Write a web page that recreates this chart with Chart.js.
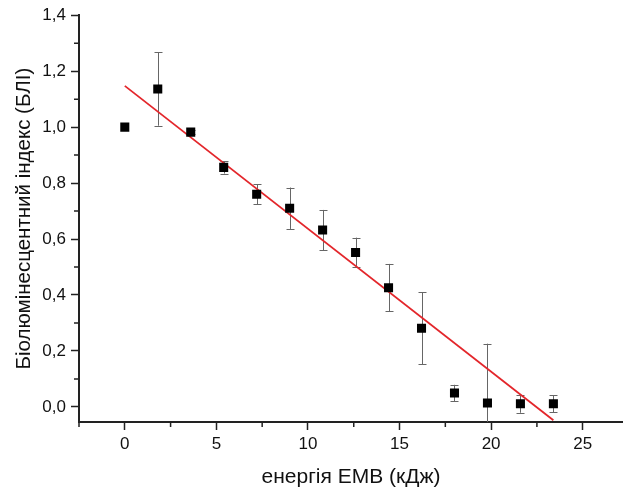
<!DOCTYPE html>
<html>
<head>
<meta charset="utf-8">
<script src="https://cdn.jsdelivr.net/npm/chart.js@4"></script>
<style>
  html, body { margin: 0; padding: 0; background: #fff; }
  canvas { display: block; }
</style>
</head>
<body>
<canvas id="chart" width="623" height="488"></canvas>
<script>
// Measured bioluminescence index vs. EMR energy, with standard errors
const energy = [0, 1.8, 3.6, 5.4, 7.2, 9.0, 10.8, 12.6, 14.4, 16.2, 18.0, 19.8, 21.6, 23.4];
const bli    = [1.0, 1.136, 0.982, 0.856, 0.76, 0.71, 0.632, 0.552, 0.426, 0.281, 0.05, 0.014, 0.011, 0.011];
const bliErr = [0, 0.131, 0.008, 0.022, 0.035, 0.074, 0.072, 0.053, 0.085, 0.128, 0.029, 0.212, 0.032, 0.03];

// Linear fit endpoints
const fitX = [0, 23.4];
const fitY = [1.1475, -0.0475];

// Axis ticks
const xMajorTicks = [0, 5, 10, 15, 20, 25];
const xMinorTicks = [-2.5, 2.5, 7.5, 12.5, 17.5, 22.5];
const yMajorTicks = [0, 0.2, 0.4, 0.6, 0.8, 1.0, 1.2, 1.4];
const yMinorTicks = [0.1, 0.3, 0.5, 0.7, 0.9, 1.1, 1.3];

const FONT = 'Liberation Sans, Arial, sans-serif';
const AXIS_COLOR = '#222';

const errorBars = {
  id: 'errorBars',
  beforeDatasetsDraw(chart) {
    const { ctx, chartArea, scales: { x, y } } = chart;
    ctx.save();
    ctx.beginPath();
    ctx.rect(chartArea.left, chartArea.top, chartArea.right - chartArea.left, chartArea.bottom - chartArea.top);
    ctx.clip();
    ctx.strokeStyle = '#666';
    ctx.lineWidth = 1;
    const cap = 4;
    energy.forEach((e, i) => {
      const err = bliErr[i];
      if (!err) return;
      const px = Math.round(x.getPixelForValue(e)) + 0.5;
      const top = y.getPixelForValue(bli[i] + err);
      const bot = y.getPixelForValue(bli[i] - err);
      ctx.beginPath();
      ctx.moveTo(px, top); ctx.lineTo(px, bot);
      ctx.moveTo(px - cap, Math.round(top) + 0.5); ctx.lineTo(px + cap, Math.round(top) + 0.5);
      ctx.moveTo(px - cap, Math.round(bot) + 0.5); ctx.lineTo(px + cap, Math.round(bot) + 0.5);
      ctx.stroke();
    });
    ctx.restore();
  }
};

const minorTicks = {
  id: 'minorTicks',
  afterDraw(chart) {
    const { ctx, chartArea, scales: { x, y } } = chart;
    ctx.save();
    ctx.strokeStyle = AXIS_COLOR;
    ctx.lineWidth = 1.5;
    ctx.beginPath();
    xMinorTicks.forEach(v => {
      const px = x.getPixelForValue(v);
      if (px < chartArea.left - 0.5 || px > chartArea.right + 0.5) return;
      ctx.moveTo(px, chartArea.bottom);
      ctx.lineTo(px, chartArea.bottom + 5);
    });
    yMinorTicks.forEach(v => {
      const py = y.getPixelForValue(v);
      ctx.moveTo(chartArea.left, py);
      ctx.lineTo(chartArea.left - 5, py);
    });
    ctx.stroke();
    ctx.restore();
  }
};

const fmtComma = v => v.toFixed(1).replace('.', ',');

new Chart(document.getElementById('chart'), {
  data: {
    datasets: [
      {
        type: 'scatter',
        data: energy.map((e, i) => ({ x: e, y: bli[i] })),
        pointStyle: 'rect',
        pointRadius: 6.4,
        pointHoverRadius: 6.4,
        backgroundColor: '#000',
        borderColor: '#000',
        borderWidth: 0
      },
      {
        type: 'line',
        data: fitX.map((e, i) => ({ x: e, y: fitY[i] })),
        borderColor: '#e3262b',
        borderWidth: 1.8,
        pointRadius: 0,
        fill: false
      }
    ]
  },
  options: {
    responsive: false,
    animation: false,
    layout: { autoPadding: false, padding: { top: 15, right: 0, left: 0, bottom: 0 } },
    plugins: { legend: { display: false }, tooltip: { enabled: false } },
    scales: {
      x: {
        type: 'linear',
        min: -2.5,
        max: 27.2,
        afterBuildTicks: s => { s.ticks = xMajorTicks.map(v => ({ value: v })); },
        afterFit: s => { s.height = 66; s.paddingLeft = 0; s.paddingRight = 0; },
        grid: { drawOnChartArea: false, drawTicks: true, tickLength: 8, tickColor: AXIS_COLOR, tickWidth: 1.5 },
        border: { display: true, color: AXIS_COLOR, width: 2 },
        ticks: { color: '#111', font: { family: FONT, size: 17 }, padding: 4, maxRotation: 0, autoSkip: false },
        title: { display: true, text: 'енергія ЕМВ (кДж)', color: '#111', font: { family: FONT, size: 21, lineHeight: 1 }, padding: { top: 0, bottom: 0 } }
      },
      y: {
        type: 'linear',
        min: -0.054,
        max: 1.4,
        afterBuildTicks: s => { s.ticks = yMajorTicks.map(v => ({ value: v })); },
        afterFit: s => { s.width = 79; },
        grid: { drawOnChartArea: false, drawTicks: true, tickLength: 8, tickColor: AXIS_COLOR, tickWidth: 1.5 },
        border: { display: true, color: AXIS_COLOR, width: 2 },
        ticks: { color: '#111', font: { family: FONT, size: 17 }, padding: 5, callback: v => fmtComma(v), autoSkip: false },
        title: { display: true, text: 'Біолюмінесцентний індекс (БЛІ)', color: '#111', font: { family: FONT, size: 20.5, lineHeight: 1 }, padding: { top: 14, bottom: 0 } }
      }
    }
  },
  plugins: [errorBars, minorTicks]
});
</script>
</body>
</html>
